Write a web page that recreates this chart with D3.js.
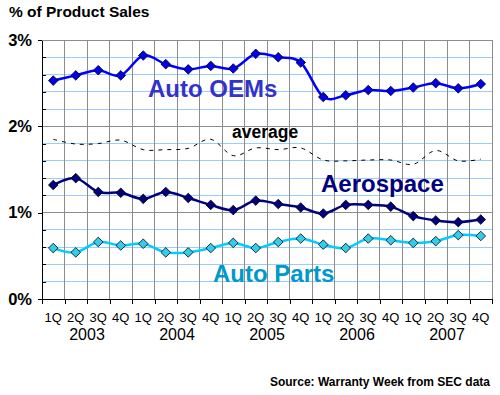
<!DOCTYPE html>
<html>
<head>
<meta charset="utf-8">
<script src="https://cdn.jsdelivr.net/npm/d3@7"></script>
<style>
  html, body { margin: 0; padding: 0; background: #fff; }
  svg { display: block; font-family: "Liberation Sans", Arial, sans-serif; }
</style>
</head>
<body>
<svg id="chart" width="500" height="395"></svg>
<script>
// ---- data ----
const years = ["2003", "2004", "2005", "2006", "2007"];
const quarterLabels = ["1Q", "2Q", "3Q", "4Q"];
const categories = years.flatMap(yr => quarterLabels.map(q => q + " " + yr));

const autoOEMs  = [2.53, 2.59, 2.65, 2.59, 2.82, 2.72, 2.66, 2.70, 2.67, 2.84, 2.80, 2.74, 2.34, 2.36, 2.42, 2.41, 2.45, 2.50, 2.44, 2.49];
const average   = [1.85, 1.795, 1.80, 1.84, 1.73, 1.73, 1.745, 1.85, 1.66, 1.75, 1.73, 1.75, 1.61, 1.60, 1.61, 1.61, 1.56, 1.72, 1.60, 1.62];
const aerospace = [1.32, 1.40, 1.24, 1.23, 1.16, 1.24, 1.17, 1.09, 1.03, 1.14, 1.10, 1.06, 0.99, 1.09, 1.09, 1.07, 0.96, 0.91, 0.89, 0.92];
const autoParts = [0.59, 0.54, 0.66, 0.62, 0.64, 0.54, 0.54, 0.59, 0.65, 0.59, 0.66, 0.70, 0.63, 0.59, 0.70, 0.68, 0.65, 0.67, 0.74, 0.73];

const yMajorTicks = [0, 1, 2, 3];
const yMinorTicks = [0.2, 0.4, 0.6, 0.8, 1.2, 1.4, 1.6, 1.8, 2.2, 2.4, 2.6, 2.8];

// ---- layout ----
const L = 42, R = 492, T = 40, B = 299;
const svg = d3.select("#chart");

const x = d3.scaleBand().domain(categories).range([L, R]).padding(0);
const xEdge = d3.scaleLinear().domain([0, categories.length]).range([L, R]);
const y = d3.scaleLinear().domain([0, 3]).range([B, T]);
const cx = (d, i) => x(categories[i]) + x.bandwidth() / 2;

// minor gridlines (light blue)
svg.append("g").selectAll("line").data(yMinorTicks).join("line")
  .attr("x1", L).attr("x2", R)
  .attr("y1", d => y(d)).attr("y2", d => y(d))
  .attr("stroke", "#99CCFF").attr("stroke-width", 1).attr("shape-rendering", "crispEdges");

// vertical gridlines (gray)
svg.append("g").selectAll("line").data(d3.range(1, categories.length + 1)).join("line")
  .attr("x1", d => xEdge(d)).attr("x2", d => xEdge(d))
  .attr("y1", T).attr("y2", B)
  .attr("stroke", "#8C8C8C").attr("stroke-width", 1).attr("shape-rendering", "crispEdges");

// major gridlines (gray)
svg.append("g").selectAll("line").data(yMajorTicks.filter(d => d > 0)).join("line")
  .attr("x1", L).attr("x2", R)
  .attr("y1", d => y(d)).attr("y2", d => y(d))
  .attr("stroke", "#8C8C8C").attr("stroke-width", 1).attr("shape-rendering", "crispEdges");

// y axis
const yAxis = svg.append("g").attr("transform", `translate(${L},0)`)
  .call(d3.axisLeft(y).tickValues(yMajorTicks).tickSize(4).tickSizeOuter(0).tickPadding(6)
    .tickFormat(d => d + "%"));
yAxis.selectAll("text").attr("font-size", "16.5px").attr("font-weight", "bold").attr("fill", "#000")
  .attr("font-family", "Liberation Sans, Arial, sans-serif");
yAxis.selectAll("line, path").attr("stroke", "#000").attr("shape-rendering", "crispEdges");

const yMinorAxis = svg.append("g").attr("transform", `translate(${L},0)`)
  .call(d3.axisRight(y).tickValues(yMinorTicks).tickSize(4).tickFormat(""));
yMinorAxis.select(".domain").remove();
yMinorAxis.selectAll("line").attr("stroke", "#000").attr("shape-rendering", "crispEdges");

// x axis: boundary ticks
const xTickAxis = svg.append("g").attr("transform", `translate(0,${B})`)
  .call(d3.axisBottom(xEdge).tickValues(d3.range(0, categories.length + 1)).tickSize(5).tickSizeOuter(0).tickFormat(""));
xTickAxis.selectAll("line, path").attr("stroke", "#000").attr("shape-rendering", "crispEdges");

// x axis: quarter labels
const xLabAxis = svg.append("g").attr("transform", `translate(0,${B})`)
  .call(d3.axisBottom(x).tickSize(0).tickPadding(14).tickFormat(d => d.split(" ")[0]));
xLabAxis.select(".domain").remove();
xLabAxis.selectAll("text").attr("font-size", "13px").attr("fill", "#000")
  .attr("font-family", "Liberation Sans, Arial, sans-serif");

// year labels
svg.append("g").selectAll("text").data(years).join("text")
  .attr("x", (d, i) => (xEdge(i * 4) + xEdge(i * 4 + 4)) / 2)
  .attr("y", 340)
  .attr("text-anchor", "middle")
  .attr("font-size", "16px")
  .attr("fill", "#000")
  .text(d => d);

// top border
svg.append("line").attr("x1", L).attr("x2", R).attr("y1", T).attr("y2", T)
  .attr("stroke", "#8C8C8C").attr("shape-rendering", "crispEdges");

// ---- series ----
const curve = d3.curveCatmullRom.alpha(0);
const line = d3.line().x(cx).y(d => y(d)).curve(curve);
const diamond = "M0,-4.8L4.8,0L0,4.8L-4.8,0Z";

function drawSeries(vals, lineColor, markerFill, width, dashed, markers) {
  const g = svg.append("g");
  g.append("path").datum(vals)
    .attr("d", line)
    .attr("fill", "none")
    .attr("stroke", lineColor)
    .attr("stroke-width", width)
    .attr("stroke-dasharray", dashed ? "4,5" : null);
  if (markers) {
    g.selectAll("path.m").data(vals).join("path")
      .attr("class", "m")
      .attr("d", diamond)
      .attr("transform", (d, i) => `translate(${cx(d, i)},${y(d)})`)
      .attr("fill", markerFill)
      .attr("stroke", "#000")
      .attr("stroke-width", 0.8);
  }
}

drawSeries(average, "#000", null, 1, true, false);
drawSeries(autoParts, "#00CCFF", "#33CCEE", 2.5, false, true);
drawSeries(aerospace, "#000080", "#000080", 2.5, false, true);
drawSeries(autoOEMs, "#0000FF", "#0000EE", 2.5, false, true);

// ---- labels ----
const labels = [
  { text: "Auto OEMs", x: 148, y: 97, size: 24, color: "#3333CC" },
  { text: "average", x: 232, y: 138, size: 17.5, color: "#000" },
  { text: "Aerospace", x: 321, y: 192, size: 24, color: "#000080" },
  { text: "Auto Parts", x: 213, y: 282, size: 24, color: "#0099CC" }
];
svg.append("g").selectAll("text").data(labels).join("text")
  .attr("x", d => d.x).attr("y", d => d.y)
  .attr("font-size", d => d.size + "px")
  .attr("font-weight", "bold")
  .attr("fill", d => d.color)
  .text(d => d.text);

// title
svg.append("text").attr("x", 9).attr("y", 17)
  .attr("font-size", "15.5px").attr("font-weight", "bold").attr("fill", "#000")
  .text("% of Product Sales");

// source
svg.append("text").attr("x", 490).attr("y", 385.5)
  .attr("text-anchor", "end")
  .attr("font-size", "12px").attr("font-weight", "bold").attr("fill", "#000")
  .text("Source: Warranty Week from SEC data");
</script>
</body>
</html>
